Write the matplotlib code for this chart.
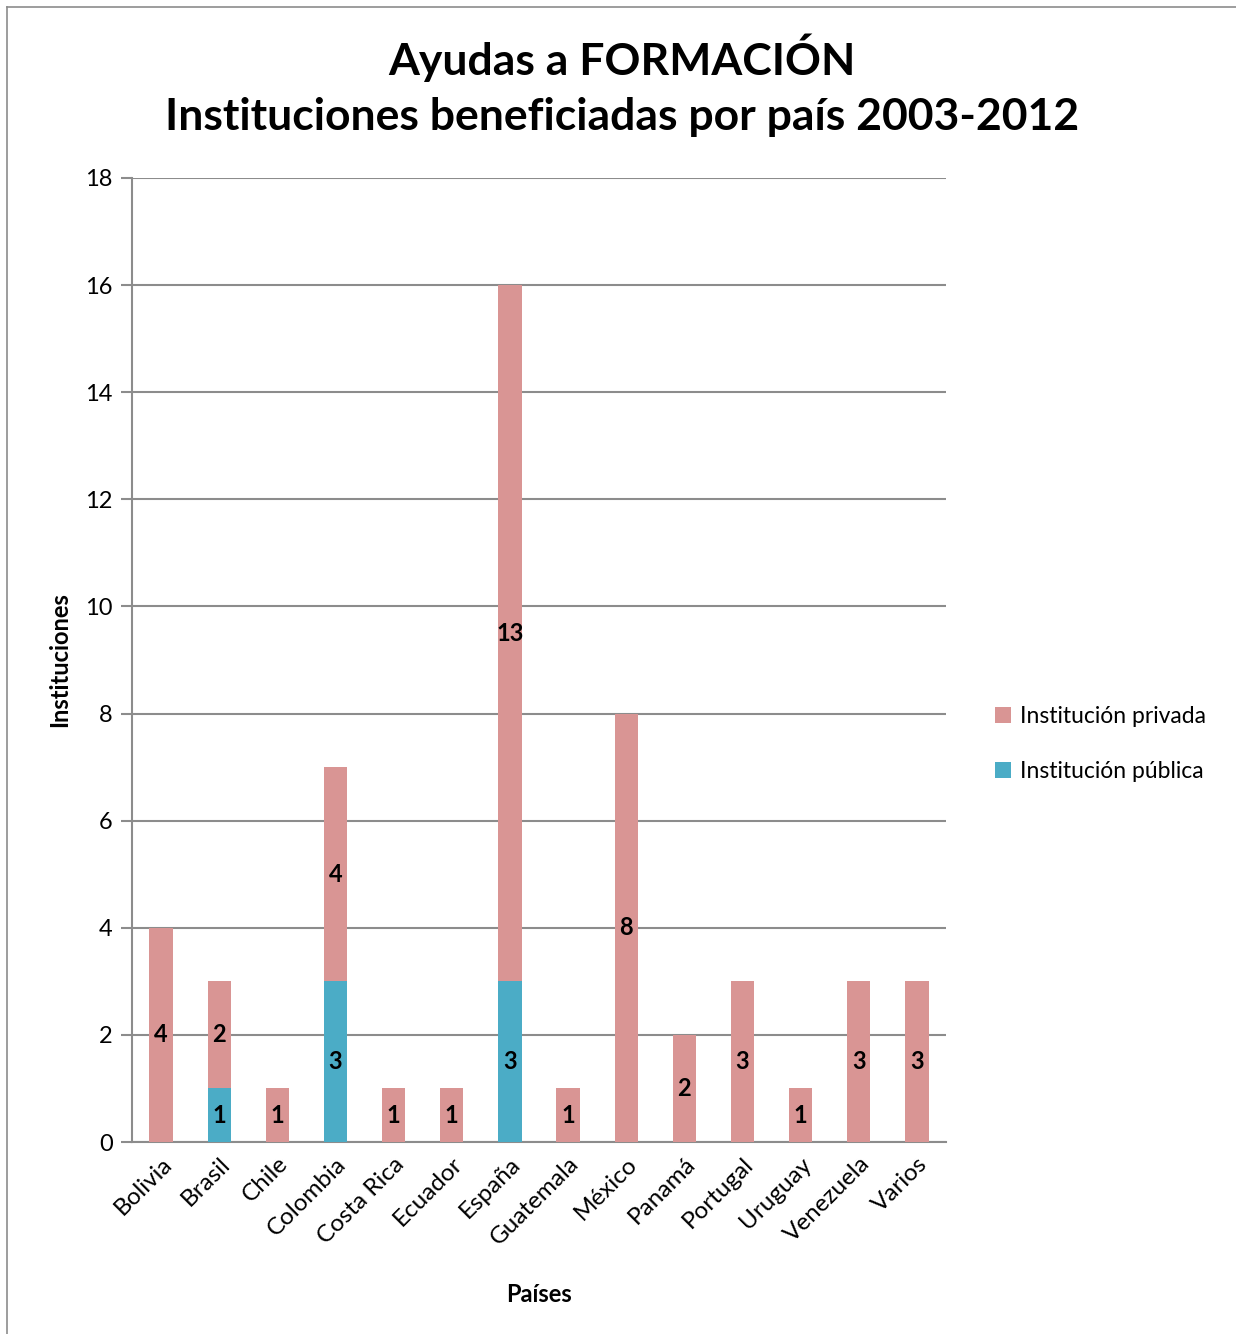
import matplotlib.pyplot as plt
import matplotlib.lines as mlines
import numpy as np

plt.rcParams['font.family'] = ['Lato', 'DejaVu Sans']

paises = ['Bolivia', 'Brasil', 'Chile', 'Colombia', 'Costa Rica', 'Ecuador', 'España',
          'Guatemala', 'México', 'Panamá', 'Portugal', 'Uruguay', 'Venezuela', 'Varios']
publica = [0, 1, 0, 3, 0, 0, 3, 0, 0, 0, 0, 0, 0, 0]
privada = [4, 2, 1, 4, 1, 1, 13, 1, 8, 2, 3, 1, 3, 3]
y_ticks = [0, 2, 4, 6, 8, 10, 12, 14, 16, 18]

col_priv = '#D99594'
col_pub = '#4BACC6'
grid_col = '#8C8C8C'

fig = plt.figure(figsize=(12.36, 13.34), dpi=100)
ax = fig.add_axes([0.1068, 0.1439, 0.6586, 0.7227])

x = np.arange(len(paises))
w = 0.4
b_pub = ax.bar(x, publica, w, color=col_pub, label='Institución pública', zorder=3)
b_priv = ax.bar(x, privada, w, bottom=publica, color=col_priv, label='Institución privada', zorder=3)

# etiquetas de datos
for i in range(len(paises)):
    if publica[i] > 0:
        ax.text(x[i], publica[i] / 2, str(publica[i]), ha='center', va='center',
                fontsize=17, fontweight='bold', zorder=4)
    if privada[i] > 0:
        ax.text(x[i], publica[i] + privada[i] / 2, str(privada[i]), ha='center', va='center',
                fontsize=17, fontweight='bold', zorder=4)

ax.set_xlim(-0.5, len(paises) - 0.5)
ax.set_ylim(0, 18)
ax.set_yticks(y_ticks)
ax.tick_params(axis='y', labelsize=17, length=8, width=1.5, color=grid_col, pad=6)
ax.tick_params(axis='x', length=0, labelsize=17.5, pad=8)
ax.set_xticks(x)
ax.set_xticklabels(paises, rotation=45, ha='right', rotation_mode='anchor')
ax.yaxis.grid(True, color=grid_col, linewidth=1.5, zorder=0)
for s in ['top', 'right']:
    ax.spines[s].set_visible(False)
for s in ['left', 'bottom']:
    ax.spines[s].set_color(grid_col)
    ax.spines[s].set_linewidth(1.5)

ax.set_xlabel('Países', fontsize=17, fontweight='bold', labelpad=24)
ax.set_ylabel('Instituciones', fontsize=17, fontweight='bold', labelpad=10)

fig.text(0.503, 0.957, 'Ayudas a FORMACIÓN', ha='center', va='center',
         fontsize=32, fontweight='bold')
fig.text(0.503, 0.912, 'Instituciones beneficiadas por país 2003-2012', ha='center', va='center',
         fontsize=32, fontweight='bold')

ax.legend(handles=[b_priv, b_pub], loc='center left', bbox_to_anchor=(1.035, 0.413),
          frameon=False, fontsize=16.5, handlelength=0.7, handleheight=0.7,
          handletextpad=0.4, labelspacing=1.5)

# borde de la figura (izquierda y arriba)
fig.add_artist(mlines.Line2D([0.0057, 0.0057], [0.0, 0.9948], transform=fig.transFigure,
                             color=grid_col, linewidth=1.2))
fig.add_artist(mlines.Line2D([0.0057, 1.0], [0.9948, 0.9948], transform=fig.transFigure,
                             color=grid_col, linewidth=1.2))

fig.savefig('out.png', dpi=100)
